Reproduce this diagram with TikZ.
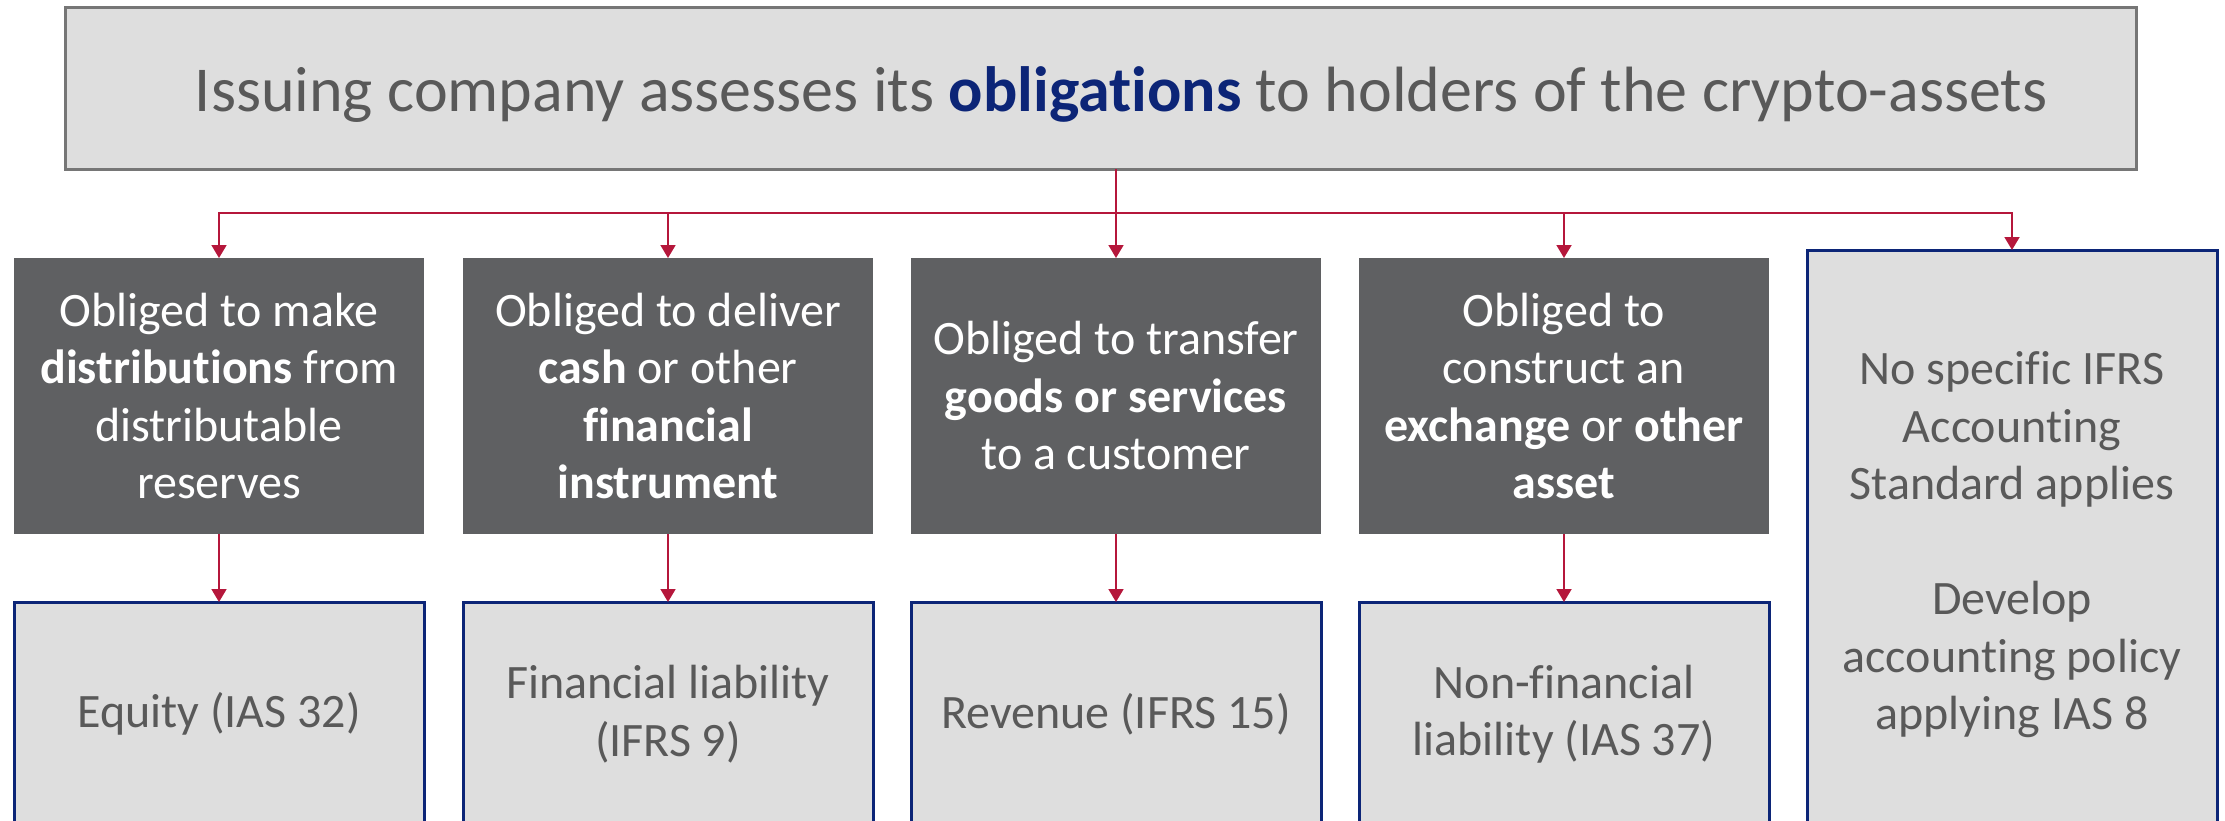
\documentclass[tikz,border=0pt]{standalone}
\usepackage{fontspec}
\setmainfont{Carlito}[RawFeature=-liga]
\usetikzlibrary{arrows.meta}
\definecolor{txtgray}{HTML}{595959}
\definecolor{boxgray}{HTML}{DEDEDE}
\definecolor{darkbox}{HTML}{5F6062}
\definecolor{navy}{HTML}{0C2577}
\definecolor{crimson}{HTML}{B5173B}
\definecolor{topborder}{HTML}{767676}
\begin{document}
\begin{tikzpicture}[x=1pt,y=-1pt,
  topbox/.style={draw=topborder, line width=3pt, fill=boxgray, inner sep=0pt, outer sep=0pt,
    minimum width=2071pt, minimum height=162pt},
  titletext/.style={text=txtgray, inner sep=0pt, font=\fontsize{64}{77}\selectfont},
  qbox/.style={fill=darkbox, text=white, minimum width=410pt, minimum height=276pt,
    inner sep=0pt, outer sep=0pt, align=center, font=\fontsize{48}{57.5}\selectfont},
  abox/.style={draw=navy, line width=3pt, fill=boxgray, text=txtgray, minimum width=410pt,
    inner sep=0pt, outer sep=0pt, align=center, font=\fontsize{48}{57.5}\selectfont},
  link/.style={draw=crimson, line width=1.8pt, -{Triangle[width=15pt,length=13pt]}}
]
\useasboundingbox (0,0) rectangle (2225,820);
\clip (0,0) rectangle (2225,820);

\node[topbox] (top) at (1100.5,88) {};
\node[titletext] (title) at (1121,95) {Issuing company assesses its \textbf{\color{navy}obligations} to holders of the crypto-assets};

\node[qbox] (d1) at (219,396) {Obliged to make\\\textbf{distributions} from\\distributable\\reserves};
\node[qbox] (d2) at (668,396) {Obliged to deliver\\\textbf{cash} or other\\\textbf{financial}\\\textbf{instrument}};
\node[qbox] (d3) at (1116,396) {Obliged to transfer\\\textbf{goods or services}\\to a customer};
\node[qbox] (d4) at (1564,396) {Obliged to\\construct an\\\textbf{exchange} or \textbf{other}\\\textbf{asset}};

\node[abox, minimum height=224pt] (l1) at (219,714) {Equity (IAS 32)};
\node[abox, minimum height=224pt] (l2) at (668,714) {Financial liability\\(IFRS 9)};
\node[abox, minimum height=224pt] (l3) at (1116,714) {Revenue (IFRS 15)};
\node[abox, minimum height=224pt] (l4) at (1564,714) {Non-financial\\liability (IAS 37)};
\node[abox, minimum height=590pt] (l5) at (2012,545) {No specific IFRS\\Accounting\\Standard applies\\[57.5pt]Develop\\accounting policy\\applying IAS 8};

\coordinate (hub) at (1116,213);
\draw[crimson, line width=1.8pt] (top.south -| hub) -- (hub);
\foreach \n in {d1,d2,d3,d4} {\draw[link] (hub) -| (\n.north);}
\draw[link] (hub) -| (l5.north);
\foreach \a/\b in {d1/l1,d2/l2,d3/l3,d4/l4} {\draw[link] (\a.south) -- (\b.north);}
\end{tikzpicture}
\end{document}
